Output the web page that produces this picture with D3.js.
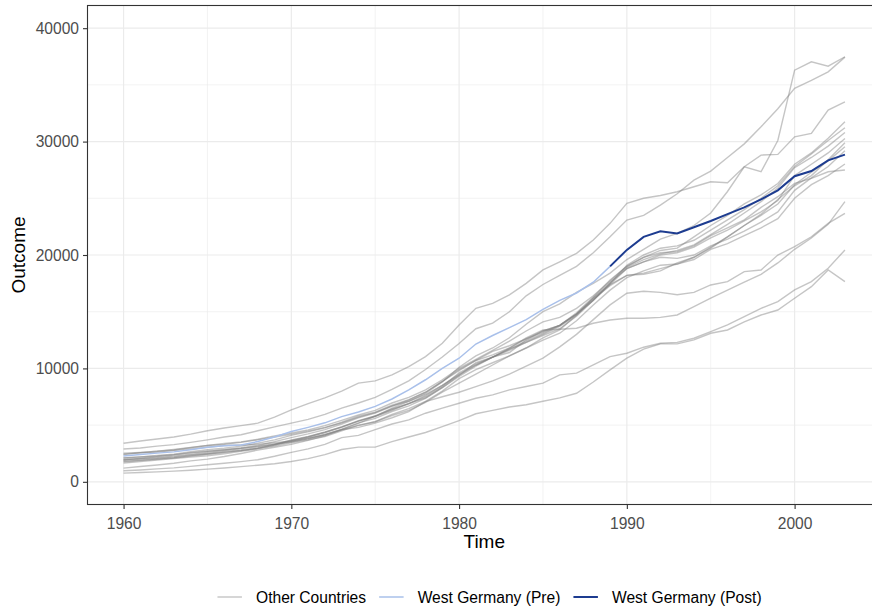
<!DOCTYPE html>
<html>
<head>
<meta charset="utf-8">
<script src="https://cdn.jsdelivr.net/npm/d3@7"></script>
<style>
  body { margin: 0; background: #fff; }
  svg { display: block; font-family: "Liberation Sans", Arial, sans-serif; }
  .grid-major { stroke: #ebebeb; stroke-width: 1.2; }
  .grid-minor { stroke: #ebebeb; stroke-width: 0.6; }
  .panel-border { fill: none; stroke: #333; stroke-width: 1.1; }
  .axis .domain { display: none; }
  .axis line { stroke: #333; stroke-width: 1.1; }
  .axis text { fill: #4d4d4d; font-size: 15.6px; font-family: "Liberation Sans", Arial, sans-serif; }
  .axis-title { fill: #000; font-size: 19px; }
  .legend-text { fill: #000; font-size: 15.6px; }
  .other-line { fill: none; stroke: #7f7f7f; stroke-opacity: 0.45; stroke-width: 1.4; }
</style>
</head>
<body>
<svg id="chart" width="872" height="609"></svg>
<script>
// ── Data: GDP per capita, 1960–2003 ──
const years = d3.range(1960, 2004);
const treatYear = 1989; // pre line runs up to here, post line starts here

const westGermany = [
  2284, 2400, 2530, 2640, 2830, 3050, 3190, 3250, 3550, 3950,
  4430, 4800, 5200, 5750, 6150, 6650, 7300, 8100, 9000, 10000,
  10900, 12150, 12900, 13600, 14300, 15200, 16000, 16650, 17600, 19000,
  20450, 21600, 22100, 21900, 22450, 23000, 23600, 24200, 24900, 25700,
  26950, 27400, 28350, 28850
];

const usa = [
  2900, 2980, 3150, 3280, 3480, 3700, 3950, 4150, 4500, 4850,
  5170, 5500, 5950, 6500, 6950, 7450, 8150, 8900, 9900, 11000,
  12200, 13500, 14000, 15000, 16400, 17400, 18200, 19000, 20200, 21600,
  23080, 23500, 24400, 25400, 26600, 27400, 28600, 29800, 31300, 32900,
  34700, 35400, 36150, 37450
];
const switzerland = [
  3400, 3600, 3780, 3950, 4200, 4500, 4750, 4950, 5170, 5700,
  6340, 6900, 7400, 8000, 8700, 8900, 9430, 10160, 11040, 12220,
  13830, 15300, 15740, 16480, 17500, 18680, 19400, 20150, 21320, 22790,
  24550, 25000, 25250, 25580, 26020, 26460, 26370, 27780, 28810, 28870,
  30420, 30720, 32780, 33510
];
const norway = [
  1940, 2050, 2150, 2270, 2420, 2600, 2760, 2940, 3100, 3300,
  3500, 3800, 4150, 4600, 5150, 5800, 6500, 7100, 7800, 8800,
  10100, 11100, 11800, 12700, 13900, 15000, 15700, 16700, 17500, 18400,
  19600, 20500, 21400, 21900, 22600, 23700, 25600, 27780, 27340, 30100,
  36300, 37030, 36650, 37480
];
const newZealand = [
  2450, 2550, 2600, 2750, 2900, 3050, 3200, 3250, 3300, 3450,
  3600, 3850, 4150, 4650, 5200, 5600, 6200, 6700, 7350, 8300,
  9400, 10300, 11000, 11800, 12700, 13390, 13450, 13540, 13980, 14270,
  14420, 14420, 14500, 14710, 15440, 16190, 16900, 17600, 18300, 19300,
  20500, 21500, 22700, 24700
];
const japan = [
  1210, 1350, 1480, 1640, 1850, 2000, 2230, 2500, 2800, 3050,
  3300, 3650, 4050, 4580, 4800, 5170, 5650, 6190, 7070, 7500,
  7900, 8400, 8900, 9500, 10200, 10900, 11900, 13000, 14300, 15600,
  16630, 16800, 16700, 16500, 16700, 17360, 17650, 18530, 18680, 20000,
  20730, 21610, 22790, 23670
];
const portugal = [
  770, 820, 880, 940, 1020, 1120, 1220, 1340, 1460, 1590,
  1790, 2050, 2400, 2850, 3060, 3060, 3550, 3950, 4350, 4870,
  5400, 6000, 6300, 6600, 6800, 7100, 7400, 7810, 8800, 9870,
  10900, 11700, 12160, 12160, 12510, 13100, 13390, 14100, 14710, 15150,
  16190, 17210, 18680, 17650
];
const greece = [
  970, 1040, 1140, 1230, 1360, 1500, 1640, 1780, 1950, 2250,
  2600, 2900, 3300, 3900, 4100, 4600, 5100, 5460, 6050, 6500,
  6930, 7370, 7670, 8110, 8400, 8700, 9430, 9580, 10310, 11040,
  11340, 11870, 12220, 12300, 12660, 13240, 13830, 14560, 15300, 15890,
  16920, 17650, 18830, 20440
];
const denmark = [
  2400, 2560, 2700, 2800, 3020, 3200, 3380, 3520, 3750, 4050,
  4300, 4580, 4950, 5420, 5900, 6300, 6950, 7450, 8100, 9000,
  10000, 10800, 11600, 12400, 13300, 14100, 14500, 15300, 16400, 17700,
  19000, 19800, 20400, 20600, 21600, 22600, 23500, 24500, 25300, 26300,
  28000, 29000, 30300, 31750
];
const austria = [
  1900, 2000, 2080, 2200, 2380, 2500, 2680, 2800, 3000, 3300,
  3700, 4000, 4400, 4850, 5350, 5750, 6300, 6900, 7400, 8300,
  9300, 10200, 11000, 11700, 12300, 13000, 13700, 14700, 16000, 17500,
  19100, 20000, 20600, 20800, 21300, 22200, 23100, 24000, 25000, 26100,
  27800, 28900, 30100, 31220
];
const netherlands = [
  2100, 2200, 2320, 2430, 2650, 2830, 2970, 3150, 3400, 3700,
  4100, 4400, 4750, 5250, 5800, 6150, 6750, 7250, 7900, 8850,
  9900, 10700, 11200, 11800, 12600, 13300, 13800, 14800, 16000, 17500,
  18900, 19600, 20100, 20400, 20900, 21800, 22700, 23700, 24700, 25900,
  27700, 28600, 29600, 30800
];
const belgium = [
  1800, 1900, 2020, 2130, 2300, 2450, 2600, 2750, 2950, 3250,
  3650, 3950, 4350, 4850, 5400, 5800, 6400, 6900, 7500, 8400,
  9600, 10400, 11000, 11600, 12300, 12900, 13500, 14600, 16000, 17400,
  18800, 19400, 20000, 20200, 20700, 21500, 22200, 23000, 23800, 24800,
  27000, 28000, 29000, 30280
];
const australia = [
  2530, 2600, 2700, 2850, 3030, 3200, 3300, 3480, 3700, 3950,
  4200, 4480, 4800, 5200, 5700, 6100, 6700, 7100, 7700, 8500,
  9400, 10500, 11000, 11400, 12500, 13300, 13800, 14800, 16100, 17300,
  18200, 18300, 18600, 19300, 19800, 20700, 21600, 22600, 23600, 24900,
  26100, 27000, 28400, 29900
];
const uk = [
  2100, 2200, 2280, 2400, 2570, 2700, 2820, 2950, 3150, 3350,
  3550, 3800, 4150, 4600, 4950, 5300, 5850, 6300, 7000, 7900,
  8700, 9500, 10300, 11100, 11800, 12700, 13400, 14700, 16200, 17400,
  18200, 18400, 18800, 19200, 19800, 20600, 21600, 22600, 23500, 24500,
  26200, 27300, 28300, 29540
];
const france = [
  1950, 2080, 2220, 2350, 2530, 2680, 2850, 3000, 3200, 3550,
  3900, 4230, 4600, 5100, 5650, 6050, 6650, 7200, 7900, 8850,
  9800, 10700, 11500, 12000, 12600, 13200, 13800, 14800, 16200, 17600,
  18800, 19400, 19800, 19700, 20000, 20800, 21400, 22100, 22900, 23800,
  25700, 26800, 27800, 29200
];
const italy = [
  1650, 1780, 1930, 2060, 2180, 2300, 2480, 2680, 2900, 3150,
  3450, 3700, 4000, 4500, 5000, 5300, 5950, 6450, 7100, 8000,
  9100, 9900, 10500, 11100, 11800, 12500, 13100, 14200, 15600, 16900,
  18000, 18600, 19100, 19200, 19600, 20500, 21000, 21700, 22400, 23200,
  25000, 26200, 27000, 28020
];
const spain = [
  1750, 1880, 1980, 2100, 2280, 2430, 2600, 2750, 2950, 3250,
  3600, 3950, 4350, 4800, 5350, 5800, 6400, 6900, 7600, 8500,
  9500, 10300, 11000, 11700, 12400, 13100, 13800, 14900, 16300, 17800,
  19000, 19800, 20200, 20300, 20800, 21700, 22400, 23100, 24200, 25140,
  26310, 26750, 27340, 27490
];

const otherSeries = [usa, switzerland, norway, newZealand, japan, portugal, greece,
  denmark, austria, netherlands, belgium, australia, uk, france, italy, spain];

// ── Axis ticks ──
const xTicks = [1960, 1970, 1980, 1990, 2000];
const xMinor = [1965, 1975, 1985, 1995, 2005];
const yTicks = [0, 10000, 20000, 30000, 40000];
const yMinor = [5000, 15000, 25000, 35000];

const legendItems = [
  { label: "Other Countries", color: "#7f7f7f", opacity: 0.45, width: 1.4 },
  { label: "West Germany (Pre)", color: "#a9c0ea", opacity: 1, width: 1.5 },
  { label: "West Germany (Post)", color: "#1d3c90", opacity: 1, width: 2 }
];

// ── Dimensions ──
const panel = { left: 87.5, top: 5.5, right: 881, bottom: 504.5 };
const svg = d3.select("#chart");

const x = d3.scaleLinear()
  .domain([1960 - 43 * 0.05, 2003 + 43 * 0.05])
  .range([panel.left, panel.right]);

const y = d3.scaleLinear()
  .domain([-2000, 42000])
  .range([panel.bottom, panel.top]);

// ── Grid ──
const grid = svg.append("g");

grid.selectAll(".gx-minor")
  .data(xMinor)
  .join("line")
  .attr("class", "grid-minor")
  .attr("x1", d => x(d)).attr("x2", d => x(d))
  .attr("y1", panel.top).attr("y2", panel.bottom);

grid.selectAll(".gy-minor")
  .data(yMinor)
  .join("line")
  .attr("class", "grid-minor")
  .attr("x1", panel.left).attr("x2", panel.right)
  .attr("y1", d => y(d)).attr("y2", d => y(d));

grid.selectAll(".gx-major")
  .data(xTicks)
  .join("line")
  .attr("class", "grid-major")
  .attr("x1", d => x(d)).attr("x2", d => x(d))
  .attr("y1", panel.top).attr("y2", panel.bottom);

grid.selectAll(".gy-major")
  .data(yTicks)
  .join("line")
  .attr("class", "grid-major")
  .attr("x1", panel.left).attr("x2", panel.right)
  .attr("y1", d => y(d)).attr("y2", d => y(d));

// ── Lines ──
const line = d3.line()
  .x(d => x(d[0]))
  .y(d => y(d[1]));

const toPoints = vals => vals.map((v, i) => [years[i], v]);

svg.append("g")
  .selectAll("path")
  .data(otherSeries)
  .join("path")
  .attr("class", "other-line")
  .attr("d", d => line(toPoints(d)));

const wgPoints = toPoints(westGermany);

svg.append("path")
  .attr("fill", "none")
  .attr("stroke", legendItems[1].color)
  .attr("stroke-width", legendItems[1].width)
  .attr("d", line(wgPoints.filter(d => d[0] <= treatYear)));

svg.append("path")
  .attr("fill", "none")
  .attr("stroke", legendItems[2].color)
  .attr("stroke-width", legendItems[2].width)
  .attr("d", line(wgPoints.filter(d => d[0] >= treatYear)));

// ── Panel border ──
svg.append("rect")
  .attr("class", "panel-border")
  .attr("x", panel.left)
  .attr("y", panel.top)
  .attr("width", panel.right - panel.left)
  .attr("height", panel.bottom - panel.top);

// ── Axes ──
svg.append("g")
  .attr("class", "axis")
  .attr("transform", `translate(0,${panel.bottom})`)
  .call(d3.axisBottom(x).tickValues(xTicks).tickFormat(d3.format("d")).tickSize(4.5).tickPadding(9));

svg.append("g")
  .attr("class", "axis")
  .attr("transform", `translate(${panel.left},0)`)
  .call(d3.axisLeft(y).tickValues(yTicks).tickFormat(d3.format("d")).tickSize(4.5).tickPadding(4));

const midX = (panel.left + panel.right) / 2;

svg.append("text")
  .attr("class", "axis-title")
  .attr("x", midX)
  .attr("y", 548)
  .attr("text-anchor", "middle")
  .text("Time");

svg.append("text")
  .attr("class", "axis-title")
  .attr("transform", `translate(25,${(panel.top + panel.bottom) / 2}) rotate(-90)`)
  .attr("text-anchor", "middle")
  .text("Outcome");

// ── Legend (laid out from measured text widths, centred under panel) ──
const legendY = 597;
const keyW = 30.6, keyGap = 11, itemGap = 10;
const legend = svg.append("g");

const items = legendItems.map(d => {
  const t = legend.append("text")
    .attr("class", "legend-text")
    .attr("y", legendY + 5.5)
    .text(d.label);
  return { d, t, w: t.node().getComputedTextLength() };
});

const total = d3.sum(items, it => keyW + keyGap + it.w) + itemGap * (items.length - 1);
let cursor = 488 - total / 2;

items.forEach(it => {
  legend.append("line")
    .attr("x1", cursor + keyW * 0.1)
    .attr("x2", cursor + keyW * 0.9)
    .attr("y1", legendY).attr("y2", legendY)
    .attr("stroke", it.d.color)
    .attr("stroke-opacity", it.d.opacity)
    .attr("stroke-width", it.d.width);
  it.t.attr("x", cursor + keyW + keyGap);
  cursor += keyW + keyGap + it.w + itemGap;
});
</script>
</body>
</html>
